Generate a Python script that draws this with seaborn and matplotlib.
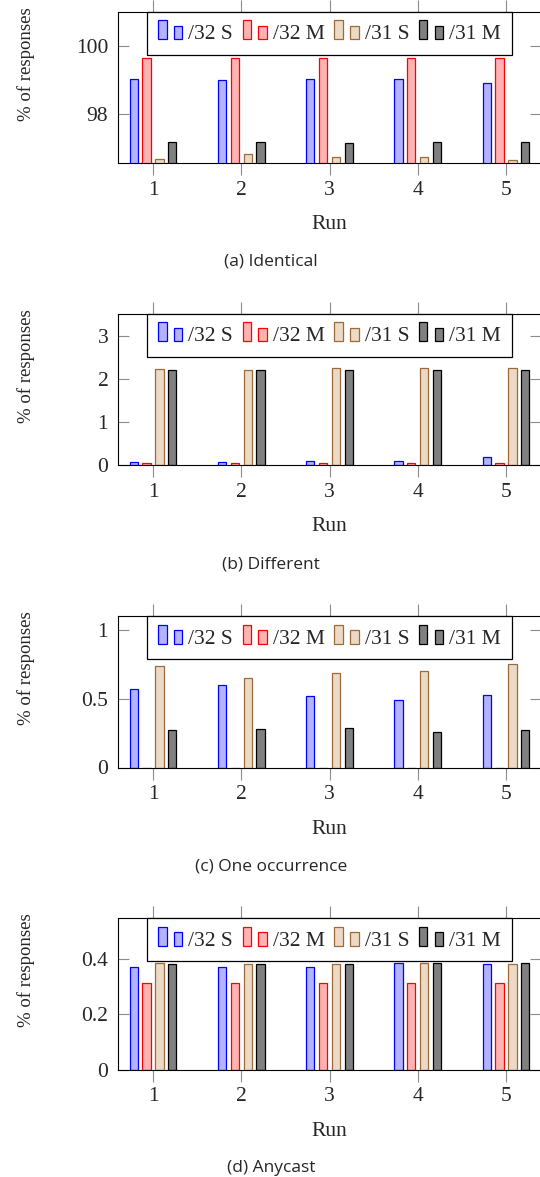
import pandas as pd
import matplotlib
matplotlib.use("Agg")
import matplotlib.pyplot as plt
from matplotlib.legend_handler import HandlerBase
from matplotlib.patches import Rectangle
from matplotlib.ticker import FuncFormatter
import seaborn as sns

runs = [1, 2, 3, 4, 5]
series = ["/32 S", "/32 M", "/31 S", "/31 M"]

identical_32s = [99.01, 98.98, 99.02, 99.03, 98.89]
identical_32m = [99.63, 99.63, 99.63, 99.63, 99.63]
identical_31s = [96.67, 96.79, 96.71, 96.71, 96.64]
identical_31m = [97.17, 97.16, 97.14, 97.17, 97.16]

different_32s = [0.07, 0.07, 0.10, 0.10, 0.20]
different_32m = [0.05, 0.05, 0.05, 0.05, 0.05]
different_31s = [2.24, 2.21, 2.25, 2.25, 2.25]
different_31m = [2.20, 2.20, 2.20, 2.20, 2.20]

one_32s = [0.57, 0.60, 0.52, 0.49, 0.53]
one_32m = [0.0, 0.0, 0.0, 0.0, 0.0]
one_31s = [0.74, 0.65, 0.69, 0.70, 0.75]
one_31m = [0.27, 0.28, 0.29, 0.26, 0.27]

any_32s = [0.372, 0.371, 0.369, 0.383, 0.381]
any_32m = [0.312, 0.312, 0.312, 0.312, 0.312]
any_31s = [0.383, 0.382, 0.382, 0.385, 0.382]
any_31m = [0.381, 0.382, 0.382, 0.383, 0.385]

panels = [
    ("(a) Identical", [identical_32s, identical_32m, identical_31s, identical_31m], (96.53, 101.0), [98, 100]),
    ("(b) Different", [different_32s, different_32m, different_31s, different_31m], (0, 3.5), [0, 1, 2, 3]),
    ("(c) One occurrence", [one_32s, one_32m, one_31s, one_31m], (0, 1.1), [0, 0.5, 1]),
    ("(d) Anycast", [any_32s, any_32m, any_31s, any_31m], (0, 0.546), [0, 0.2, 0.4]),
]

fills = ["#b3b3ff", "#ffb3b3", "#ecd9c6", "#808080"]
edges = ["#0000ff", "#ff0000", "#9b6b3c", "#000000"]
FS = 15.5


class TwoBars:
    def __init__(self, face, edge):
        self.face = face
        self.edge = edge


class TwoBarHandler(HandlerBase):
    # pgfplots ybar legend: a tall and a short bar
    def create_artists(self, legend, orig, xdescent, ydescent, width, height, fontsize, trans):
        bw = width * 0.35
        x0 = -xdescent
        tall = Rectangle((x0, 0), bw, fontsize * 0.88, facecolor=orig.face,
                         edgecolor=orig.edge, lw=0.9, transform=trans)
        short = Rectangle((x0 + width - bw, 0), bw, fontsize * 0.64, facecolor=orig.face,
                          edgecolor=orig.edge, lw=0.9, transform=trans)
        return [tall, short]


sns.set_style("ticks")
plt.rcParams["font.family"] = ["Liberation Serif", "DejaVu Serif"]
plt.rcParams["font.size"] = FS

W, H = 540, 1177
fig = plt.figure(figsize=(W / 100, H / 100), dpi=100)

for i, (caption, vals, ylim, yticks) in enumerate(panels):
    top = 12 + 302.1 * i
    ax_h = 151.3
    ax = fig.add_axes([118 / W, 1 - (top + ax_h) / H, 423 / W, ax_h / H])

    df = pd.DataFrame({
        "run": runs * 4,
        "value": sum(vals, []),
        "series": [s for s in series for _ in runs],
    })
    sns.barplot(data=df, x="run", y="value", hue="series", hue_order=series,
                palette=fills, saturation=1, width=0.58, gap=0.35,
                errorbar=None, legend=False, ax=ax)
    for cont, ec in zip(ax.containers, edges):
        for bar in cont:
            bar.set_edgecolor(ec)
            bar.set_linewidth(0.9)

    ax.set_xlim(-0.397, 4.397)
    ax.set_ylim(*ylim)
    ax.set_yticks(yticks)
    ax.yaxis.set_major_formatter(FuncFormatter(lambda v, p: f"{v:g}"))
    ax.set_ylabel("")
    ax.set_xlabel("Run", fontsize=FS)
    ax.xaxis.label.set_va("baseline")
    ax.xaxis.set_label_coords(0.5, -66 / ax_h)

    ax.tick_params(axis="x", direction="out", length=8.4, width=0.8, color="#8c8c8c",
                   top=True, bottom=True, labeltop=False, pad=4, labelsize=FS)
    ax.tick_params(axis="y", direction="in", length=8, width=0.8, color="#8c8c8c",
                   left=True, right=True, pad=7, labelsize=FS)
    for sp in ax.spines.values():
        sp.set_color("black")
        sp.set_linewidth(0.8)

    handles = [TwoBars(f, e) for f, e in zip(fills, edges)]
    leg = ax.legend(handles, series, handler_map={TwoBars: TwoBarHandler()},
                    ncol=4, loc="upper center", bbox_to_anchor=(0.5, 1.0),
                    borderaxespad=0, frameon=True, fancybox=False, framealpha=1,
                    edgecolor="black", fontsize=FS, handlelength=1.12, handleheight=0.93,
                    handletextpad=0.28, columnspacing=0.45, borderpad=0.5)
    leg.get_frame().set_linewidth(0.9)

    fig.text(26 / W, 1 - (top + 52) / H, "% of responses", rotation=90,
             ha="center", va="center", fontsize=13.5)
    fig.text(271 / W, 1 - (top + 254) / H, caption, ha="center", va="baseline",
             fontsize=12.5, family=["Open Sans", "DejaVu Sans"])

fig.savefig("out.png", dpi=100)
